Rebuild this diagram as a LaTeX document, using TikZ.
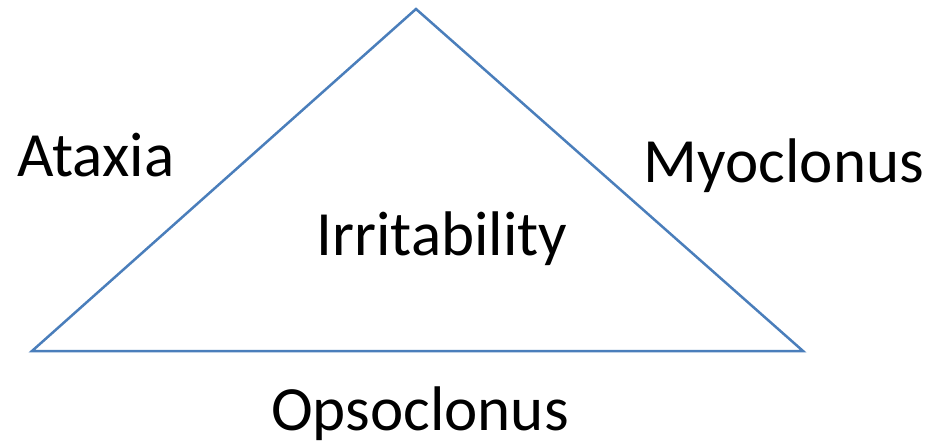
\documentclass[tikz,border=0pt]{standalone}
\usepackage{fontspec}
\setmainfont{Carlito}
\definecolor{edgeblue}{HTML}{4A7EBB}

\begin{document}
\begin{tikzpicture}[
  x=1pt,y=-1pt,
  sign/.style={font=\fontsize{63}{75}\selectfont,inner sep=0pt,anchor=base}
]
  \useasboundingbox (0,0) rectangle (936,446);

  % corners of the triad
  \coordinate (apex) at (416,9);
  \coordinate (left) at (32,351);
  \coordinate (right) at (803,351);

  \draw[edgeblue,line width=2.5pt,line join=miter] (apex) -- (left) -- (right) -- cycle;

  % symptom labels
  \node[sign] (ataxia) at (96,177) {Ataxia};
  \node[sign] (myoclonus) at (784,183) {Myoclonus};
  \node[sign] (irritability) at (442,255) {Irritability};
  \node[sign] (opsoclonus) at (420,430) {Opsoclonus};
\end{tikzpicture}
\end{document}
